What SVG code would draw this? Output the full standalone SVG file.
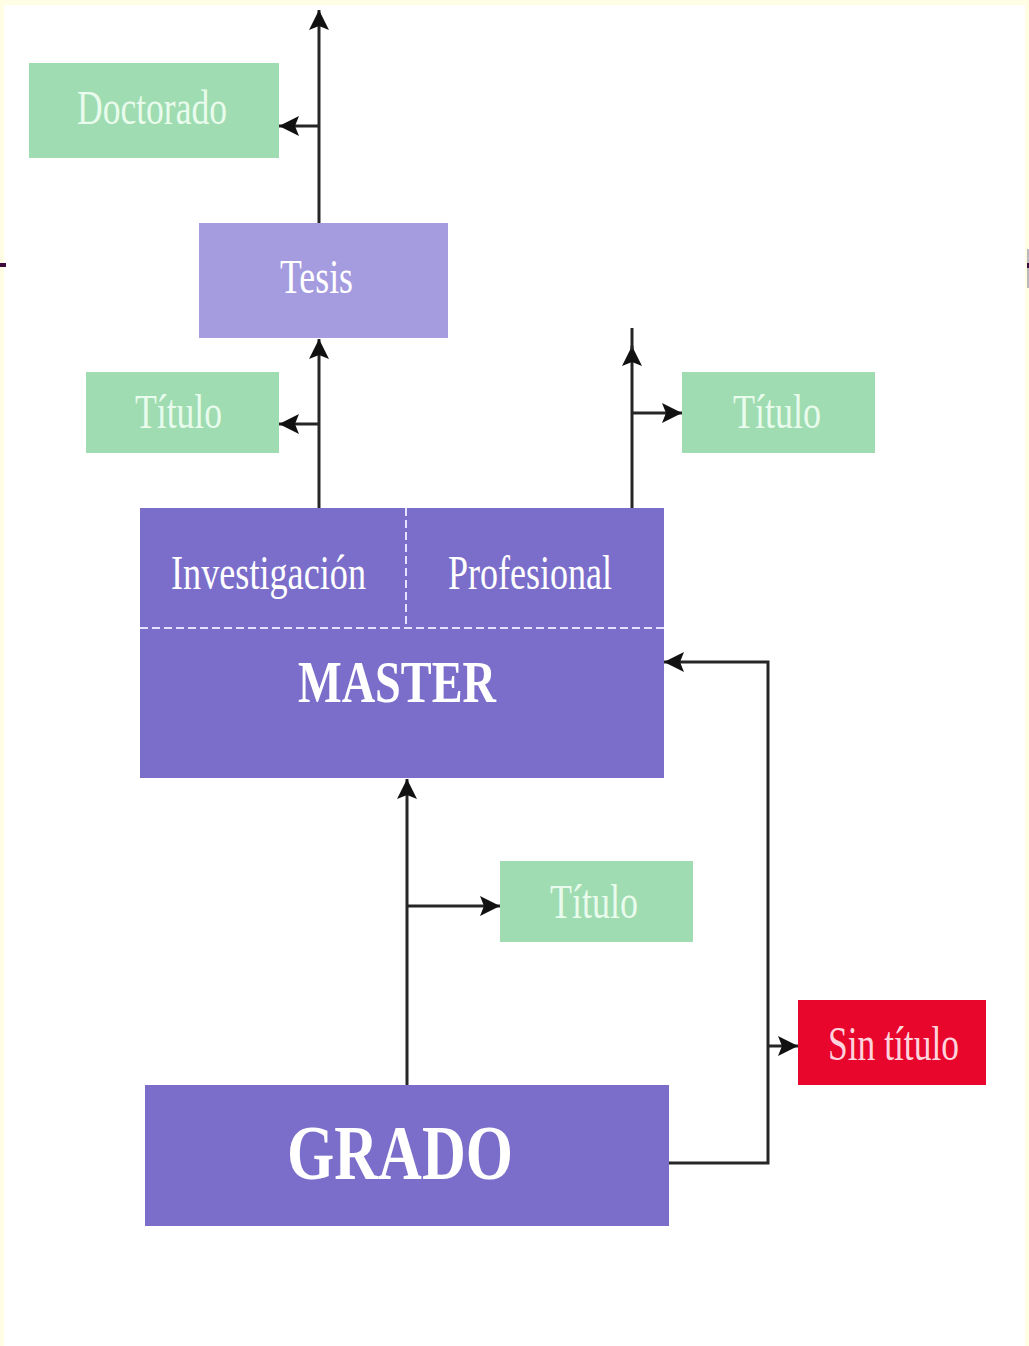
<svg xmlns="http://www.w3.org/2000/svg" width="1029" height="1346" viewBox="0 0 1029 1346">
<style>
  .lbl{font-family:"Liberation Serif","Times New Roman","DejaVu Serif",serif;font-size:49px;text-anchor:middle}
  .onGreen{fill:#e8fbec}
  .onPurple{fill:#ffffff}
  .onRed{fill:#ffd3de}
  .bold{font-weight:bold}
  .green{fill:#9fdcb1}
  .purple{fill:#7b6ecb}
  .lilac{fill:#a59ce0}
  .red{fill:#e8062c}
  .conn{fill:none;stroke:#262626;stroke-width:3}
  .dash{fill:none;stroke:#e4e0ff;stroke-width:2;stroke-dasharray:8 4}
</style>
<defs>
  <marker id="arr" markerUnits="userSpaceOnUse" markerWidth="24" markerHeight="24" refX="20" refY="11" orient="auto">
    <path d="M0,1 L20,11 L0,21 L4,11 Z" fill="#111"/>
  </marker>
</defs>
<rect x="0" y="0" width="1029" height="1346" fill="#fffde4"/>
<rect x="4" y="5" width="1021" height="1341" fill="#ffffff"/>
<rect x="0" y="263" width="6" height="4" fill="#3d0a3d"/>
<rect x="1027" y="249" width="2" height="39" fill="#b8b8b8"/>
<rect x="1027" y="263" width="2" height="5" fill="#3d0a3d"/>

<g id="connectors">
  <path class="conn" d="M319,223 L319,10" marker-end="url(#arr)"/>
  <path class="conn" d="M319,126 L279,126" marker-end="url(#arr)"/>
  <path class="conn" d="M319,508 L319,339" marker-end="url(#arr)"/>
  <path class="conn" d="M319,424 L279,424" marker-end="url(#arr)"/>
  <path class="conn" d="M632,508 L632,346" marker-end="url(#arr)"/>
  <path class="conn" d="M632,350 L632,328"/>
  <path class="conn" d="M632,413 L682,413" marker-end="url(#arr)"/>
  <path class="conn" d="M407,1085 L407,779" marker-end="url(#arr)"/>
  <path class="conn" d="M407,906 L500,906" marker-end="url(#arr)"/>
  <path class="conn" d="M669,1163 L768,1163 L768,662 L664,662" marker-end="url(#arr)"/>
  <path class="conn" d="M768,1046 L798,1046" marker-end="url(#arr)"/>
</g>

<g id="doctorado">
  <rect class="green" x="29" y="63" width="250" height="95"/>
  <text class="lbl onGreen" x="152" y="124" textLength="150" lengthAdjust="spacingAndGlyphs">Doctorado</text>
</g>
<g id="tesis">
  <rect class="lilac" x="199" y="223" width="249" height="115"/>
  <text class="lbl onPurple" x="316.5" y="293" textLength="73" lengthAdjust="spacingAndGlyphs">Tesis</text>
</g>
<g id="titulo-investigacion">
  <rect class="green" x="86" y="372" width="193" height="81"/>
  <text class="lbl onGreen" x="178.5" y="428" textLength="87" lengthAdjust="spacingAndGlyphs">Título</text>
</g>
<g id="titulo-profesional">
  <rect class="green" x="682" y="372" width="193" height="81"/>
  <text class="lbl onGreen" x="777" y="428" textLength="88" lengthAdjust="spacingAndGlyphs">Título</text>
</g>
<g id="master">
  <rect class="purple" x="140" y="508" width="524" height="270"/>
  <path class="dash" d="M140,628 L664,628"/>
  <path class="dash" d="M406,508 L406,628"/>
  <text class="lbl onPurple" x="268.5" y="589" textLength="195" lengthAdjust="spacingAndGlyphs">Investigación</text>
  <text class="lbl onPurple" x="530" y="589" textLength="164" lengthAdjust="spacingAndGlyphs">Profesional</text>
  <text class="lbl onPurple bold" x="397" y="702" style="font-size:60px" textLength="198" lengthAdjust="spacingAndGlyphs">MASTER</text>
</g>
<g id="titulo-grado">
  <rect class="green" x="500" y="861" width="193" height="81"/>
  <text class="lbl onGreen" x="594" y="918" textLength="88" lengthAdjust="spacingAndGlyphs">Título</text>
</g>
<g id="sin-titulo">
  <rect class="red" x="798" y="1000" width="188" height="85"/>
  <text class="lbl onRed" x="893.5" y="1060" textLength="131" lengthAdjust="spacingAndGlyphs">Sin título</text>
</g>
<g id="grado">
  <rect class="purple" x="145" y="1085" width="524" height="141"/>
  <text class="lbl onPurple bold" x="400" y="1179" style="font-size:78px" textLength="226" lengthAdjust="spacingAndGlyphs">GRADO</text>
</g>
</svg>
